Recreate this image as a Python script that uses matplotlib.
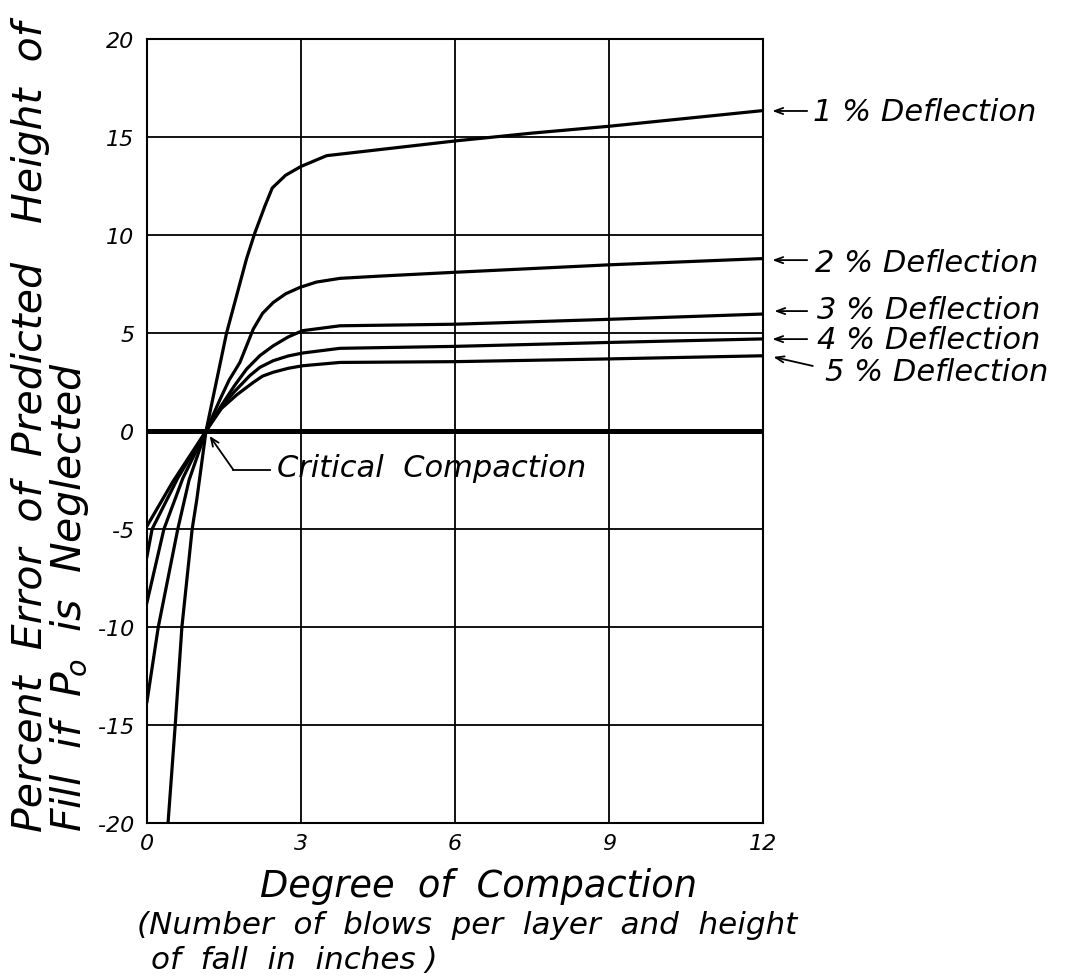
import numpy as np
import matplotlib
matplotlib.use("Agg")
import matplotlib.pyplot as plt

plt.rcParams['font.family'] = ['DejaVu Sans']
plt.rcParams['font.style'] = 'italic'

# curves: degree of compaction vs percent error
x_1 = [0.41, 0.55, 0.68, 0.88, 0.97, 1.15, 1.55, 1.94, 2.10, 2.30, 2.44, 2.70, 3.00, 3.50, 4.50, 6.00, 7.50, 9.00, 10.50, 12.00]
y_1 = [-20, -15, -10, -5, -3.5, 0, 5.0, 8.8, 10.1, 11.5, 12.4, 13.05, 13.5, 14.05, 14.35, 14.8, 15.2, 15.55, 15.95, 16.35]
x_2 = [0.0, 0.22, 0.60, 0.82, 1.15, 1.42, 1.60, 1.81, 2.07, 2.25, 2.46, 2.70, 2.98, 3.30, 3.76, 4.50, 6.00, 9.00, 12.00]
y_2 = [-13.8, -10, -5, -2.5, 0, 1.6, 2.6, 3.5, 5.2, 6.0, 6.56, 7.0, 7.33, 7.6, 7.79, 7.9, 8.1, 8.48, 8.8]
x_3 = [0.0, 0.33, 0.70, 1.15, 1.45, 1.70, 1.94, 2.20, 2.46, 2.75, 3.03, 3.76, 6.00, 9.00, 12.00]
y_3 = [-8.74, -5, -2.4, 0, 1.3, 2.3, 3.16, 3.85, 4.35, 4.8, 5.12, 5.37, 5.45, 5.7, 5.97]
x_4 = [0.0, 0.10, 0.60, 1.15, 1.45, 1.70, 2.00, 2.20, 2.46, 2.75, 3.03, 3.76, 6.00, 9.00, 12.00]
y_4 = [-6.4, -5, -2.4, 0, 1.25, 2.0, 2.82, 3.25, 3.59, 3.83, 3.98, 4.22, 4.32, 4.52, 4.7]
x_5 = [0.0, 0.50, 1.15, 1.45, 1.75, 2.07, 2.25, 2.46, 2.75, 3.03, 3.76, 6.00, 9.00, 12.00]
y_5 = [-4.85, -2.6, 0, 1.15, 1.85, 2.48, 2.8, 3.0, 3.2, 3.33, 3.5, 3.54, 3.68, 3.84]

curves = [(x_1, y_1), (x_2, y_2), (x_3, y_3), (x_4, y_4), (x_5, y_5)]
labels = ["1 % Deflection", "2 % Deflection", "3 % Deflection", "4 % Deflection", "5 % Deflection"]
xticks = [0, 3, 6, 9, 12]
yticks = [-20, -15, -10, -5, 0, 5, 10, 15, 20]
yticklabels = ["-20", "-15", "-10", "-5", "0", "5", "10", "15", "20"]

fig = plt.figure(figsize=(10.8, 9.79), dpi=100)
ax = fig.add_axes([0.1361, 0.1583, 0.5704, 0.8008])
ax.set_xlim(0, 12)
ax.set_ylim(-20, 20)

for v in xticks[1:-1]:
    ax.axvline(v, color="black", lw=1.3, zorder=1)
for v in yticks[1:-1]:
    if v != 0:
        ax.axhline(v, color="black", lw=1.3, zorder=1)
ax.axhline(0, color="black", lw=3.6, zorder=2)

for xs, ys in curves:
    ax.plot(xs, ys, color="black", lw=2.3, solid_joinstyle="round", zorder=3)

for sp in ax.spines.values():
    sp.set_linewidth(1.5)
ax.set_xticks(xticks)
ax.set_xticklabels([str(t) for t in xticks], fontsize=16)
ax.set_yticks(yticks)
ax.set_yticklabels(yticklabels, fontsize=16)
ax.tick_params(axis="y", length=0, pad=9)
ax.tick_params(axis="x", length=0, pad=7)

# critical compaction pointer
ax.plot([2.40, 1.68], [-1.97, -1.97], color="black", lw=1.3, clip_on=False)
ax.annotate("", xy=(1.22, -0.25), xytext=(1.68, -1.97),
            arrowprops=dict(arrowstyle="->,head_length=0.6,head_width=0.25", lw=1.3, color="black",
                            shrinkA=0, shrinkB=0))
ax.text(2.53, -1.85, "Critical  Compaction", fontsize=22, ha="left", va="center")

# deflection labels on the right
heads = [(12.18, 16.33), (12.18, 8.72), (12.22, 6.12), (12.18, 4.69), (12.2, 3.78)]
tails = [(12.86, 16.33), (12.86, 8.72), (12.86, 6.12), (12.86, 4.69), (12.97, 3.32)]
text_pos = [(12.97, 16.28), (13.01, 8.62), (13.05, 6.22), (13.05, 4.69), (13.2, 3.06)]
for lab, h, t, p in zip(labels, heads, tails, text_pos):
    ax.annotate("", xy=h, xytext=t, annotation_clip=False,
                arrowprops=dict(arrowstyle="->,head_length=0.6,head_width=0.22", lw=1.3, color="black",
                                shrinkA=0, shrinkB=0))
    ax.text(p[0], p[1], lab, fontsize=22, ha="left", va="center", clip_on=False)

# axis titles
fig.text(0.028, 1 - 832 / 979, "Percent  Error  of  Predicted   Height  of", rotation=90,
         fontsize=29.5, ha="center", va="bottom")
fig.text(0.064, 1 - 832 / 979, "Fill  if  $P_{\\!o}$  is  Neglected", rotation=90,
         fontsize=29.5, ha="center", va="bottom")
fig.text(0.443, 0.094, "Degree  of  Compaction", fontsize=26.5, ha="center", va="center")
fig.text(0.127, 0.055, "(Number  of  blows  per  layer  and  height", fontsize=22.3, ha="left", va="center")
fig.text(0.140, 0.019, "of  fall  in  inches )", fontsize=22.3, ha="left", va="center")

fig.savefig("out.png", dpi=100)
